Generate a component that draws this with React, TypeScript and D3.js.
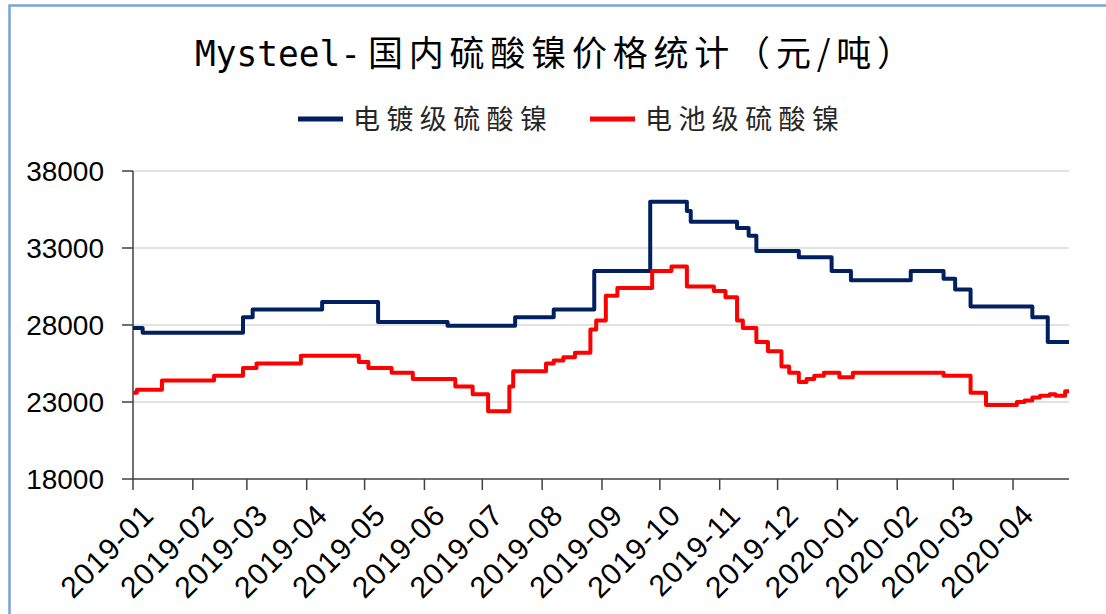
import React from 'react';
import * as d3 from 'd3';

// 电镀级硫酸镍 (change points, 元/吨)
const electroPrices: [string, number][] = [
  ['2019-01-01', 27800], ['2019-01-06', 27500], ['2019-02-27', 28500], ['2019-03-04', 29000],
  ['2019-04-09', 29500], ['2019-05-08', 28200], ['2019-06-13', 27950], ['2019-07-18', 28500],
  ['2019-08-07', 29000], ['2019-08-28', 31500], ['2019-09-26', 36000], ['2019-10-15', 35400],
  ['2019-10-17', 34700], ['2019-11-10', 34300], ['2019-11-16', 33800], ['2019-11-20', 32800],
  ['2019-12-12', 32400], ['2019-12-29', 31500], ['2020-01-08', 30900], ['2020-02-08', 31500],
  ['2020-02-25', 31000], ['2020-03-02', 30300], ['2020-03-10', 29200], ['2020-04-11', 28500],
  ['2020-04-19', 26900], ['2020-04-30', 26900],
];

// 电池级硫酸镍
const batteryPrices: [string, number][] = [
  ['2019-01-01', 23600], ['2019-01-03', 23800], ['2019-01-16', 24400], ['2019-02-12', 24700],
  ['2019-02-27', 25200], ['2019-03-06', 25500], ['2019-03-29', 26000], ['2019-04-28', 25600],
  ['2019-05-03', 25200], ['2019-05-15', 24900], ['2019-05-26', 24500], ['2019-06-17', 24000],
  ['2019-06-26', 23500], ['2019-07-04', 22400], ['2019-07-15', 24000], ['2019-07-17', 25000],
  ['2019-08-03', 25500], ['2019-08-07', 25700], ['2019-08-12', 25900], ['2019-08-18', 26200],
  ['2019-08-26', 27700], ['2019-08-29', 28300], ['2019-09-03', 29900], ['2019-09-09', 30400],
  ['2019-09-27', 31500], ['2019-10-07', 31800], ['2019-10-15', 30500], ['2019-10-29', 30200],
  ['2019-11-04', 29800], ['2019-11-10', 28300], ['2019-11-13', 27800], ['2019-11-20', 26900],
  ['2019-11-26', 26300], ['2019-12-03', 25300], ['2019-12-07', 24900], ['2019-12-12', 24300],
  ['2019-12-16', 24500], ['2019-12-20', 24700], ['2019-12-25', 24900], ['2020-01-02', 24600],
  ['2020-01-09', 24900], ['2020-02-25', 24700], ['2020-03-10', 23600], ['2020-03-18', 22800],
  ['2020-04-03', 23000], ['2020-04-07', 23100], ['2020-04-11', 23300], ['2020-04-15', 23400],
  ['2020-04-20', 23500], ['2020-04-23', 23400], ['2020-04-28', 23700], ['2020-04-30', 23700],
];

const monthTicks = [
  '2019-01', '2019-02', '2019-03', '2019-04', '2019-05', '2019-06', '2019-07', '2019-08',
  '2019-09', '2019-10', '2019-11', '2019-12', '2020-01', '2020-02', '2020-03', '2020-04',
];
const yTicks = [18000, 23000, 28000, 33000, 38000];

const seriesNames = ['电镀级硫酸镍', '电池级硫酸镍'];
const seriesColors = ['#002060', '#ff0000'];

const W = 1106;
const H = 614;

const parseDay = d3.timeParse('%Y-%m-%d');
const parseMonth = d3.timeParse('%Y-%m');

const App = () => {
  const x = d3.scaleTime()
    .domain([parseDay('2019-01-01') as Date, parseDay('2020-04-30') as Date])
    .range([133, 1069]);
  const y = d3.scaleLinear().domain([18000, 38000]).range([479, 171]);

  const line = d3.line<[string, number]>()
    .x(d => x(parseDay(d[0]) as Date))
    .y(d => y(d[1]))
    .curve(d3.curveStepAfter);

  const series = [electroPrices, batteryPrices];
  const axisColor = '#404040';

  return (
    <svg width={W} height={H} style={{ position: 'absolute', left: 0, top: 0, background: '#fff' }}>
      <rect x={9.5} y={5.5} width={W + 10} height={H + 10} fill="#fff" stroke="#79a3d9" strokeWidth={2.5} />

      {/* title */}
      <text x={195} y={66} fontFamily="'DejaVu Sans Mono', monospace" fontSize={35} fill="#000"
        textLength={166} lengthAdjust="spacingAndGlyphs">Mysteel-</text>
      <text x={368} y={66} fontFamily="'Noto Sans CJK SC'" fontSize={35} fill="#000"
        textLength={544} lengthAdjust="spacing">国内硫酸镍价格统计（元/吨）</text>

      {/* legend */}
      {seriesNames.map((name, i) => {
        const lx = i === 0 ? 298 : 590;
        return (
          <g key={name}>
            <line x1={lx} x2={lx + 45} y1={119} y2={119} stroke={seriesColors[i]} strokeWidth={5} />
            <text x={lx + 55} y={129} fontFamily="'Noto Sans CJK SC'" fontSize={27} fill="#262626"
              textLength={194} lengthAdjust="spacing">{name}</text>
          </g>
        );
      })}

      {/* grid */}
      {yTicks.filter(t => t !== 18000).map(t => (
        <line key={'g' + t} x1={133} x2={1069} y1={y(t)} y2={y(t)} stroke="#d9d9d9" strokeWidth={1.5} />
      ))}

      {/* y axis */}
      <line x1={133} x2={133} y1={171} y2={479} stroke={axisColor} strokeWidth={1.5} />
      {yTicks.map(t => (
        <g key={'y' + t}>
          <line x1={122} x2={133} y1={y(t)} y2={y(t)} stroke={axisColor} strokeWidth={1.5} />
          <text x={104} y={y(t) + 10} textAnchor="end" fontFamily="'Liberation Sans', Arial" fontSize={28} fill="#000">{t}</text>
        </g>
      ))}

      {/* x axis */}
      <line x1={133} x2={1069} y1={479} y2={479} stroke={axisColor} strokeWidth={1.5} />
      {monthTicks.map(m => {
        const tx = x(parseMonth(m) as Date);
        return (
          <g key={m}>
            <line x1={tx} x2={tx} y1={479} y2={490} stroke={axisColor} strokeWidth={1.5} />
            <text transform={`translate(${tx + 8},${502}) rotate(-45)`} textAnchor="end" dy="0.7em"
              fontFamily="'Liberation Sans', Arial" fontSize={30} letterSpacing={1} fill="#000">{m}</text>
          </g>
        );
      })}

      {/* lines */}
      {series.map((s, i) => (
        <path key={'s' + i} d={line(s) || ''} fill="none" stroke={seriesColors[i]} strokeWidth={4} strokeLinejoin="round" />
      ))}
    </svg>
  );
};

export default App;
